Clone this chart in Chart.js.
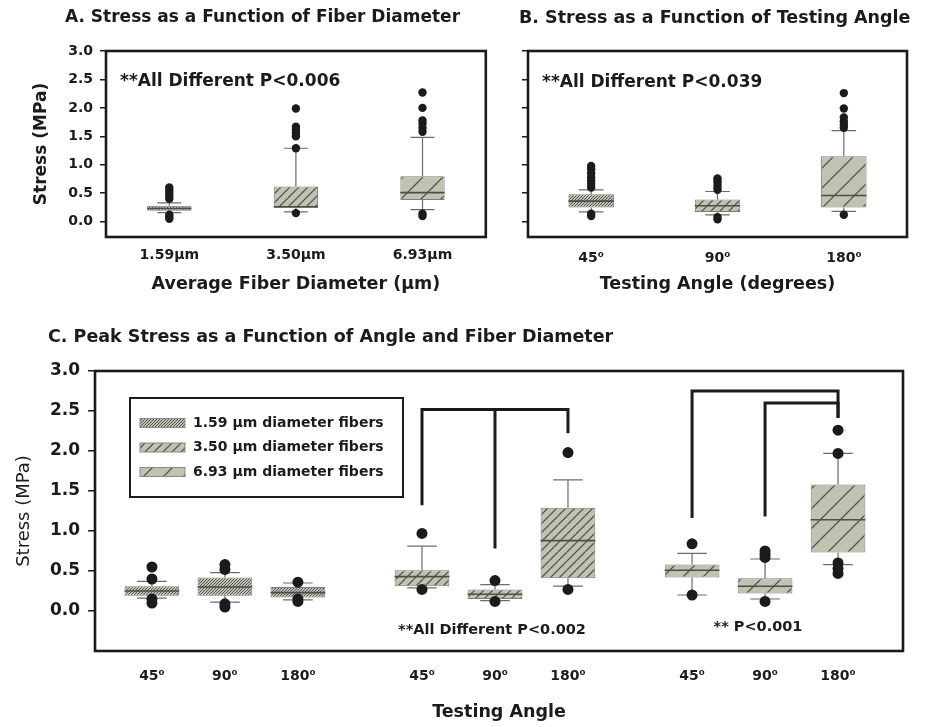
<!DOCTYPE html>
<html>
<head>
<meta charset="utf-8">
<script src="https://cdn.jsdelivr.net/npm/chart.js@4.4.1/dist/chart.umd.min.js"></script>
<style>
  html, body { margin: 0; padding: 0; background: #fff; }
  #wrap { position: relative; width: 933px; height: 727px; overflow: hidden; background: #fff; }
  canvas { position: absolute; }
</style>
</head>
<body>
<div id="wrap">
  <canvas id="cA" width="490" height="300" style="left:0;top:0;width:490px;height:300px"></canvas>
  <canvas id="cB" width="443" height="300" style="left:490px;top:0;width:443px;height:300px"></canvas>
  <canvas id="cC" width="933" height="427" style="left:0;top:300px;width:933px;height:427px"></canvas>
</div>
<script>
// ---------- shared axis ticks ----------
const stressTicks = [0, 0.5, 1.0, 1.5, 2.0, 2.5, 3.0];

// ---------- A: stress by average fiber diameter ----------
const diameterLabels = ['1.59\u00b5m', '3.50\u00b5m', '6.93\u00b5m'];
const diameterLow    = [0.16, 0.17, 0.21];
const diameterQ1     = [0.19, 0.25, 0.38];
const diameterMedian = [0.23, 0.26, 0.51];
const diameterQ3     = [0.28, 0.62, 0.80];
const diameterHigh   = [0.33, 1.29, 1.48];
const diameterOutliers = [
  [0.40, 0.45, 0.50, 0.55, 0.60, 0.05, 0.08, 0.12],
  [1.29, 1.50, 1.56, 1.62, 1.67, 1.99, 0.15],
  [1.58, 1.65, 1.72, 1.78, 2.00, 2.27, 0.10, 0.14]
];

// ---------- B: stress by testing angle ----------
const angleLabels = ['45\u2070', '90\u2070', '180\u2070'];
const angleLow    = [0.17, 0.12, 0.18];
const angleQ1     = [0.25, 0.17, 0.25];
const angleMedian = [0.36, 0.28, 0.46];
const angleQ3     = [0.48, 0.39, 1.15];
const angleHigh   = [0.56, 0.53, 1.60];
const angleOutliers = [
  [0.60, 0.66, 0.72, 0.78, 0.85, 0.92, 0.98, 0.10, 0.14],
  [0.56, 0.61, 0.66, 0.71, 0.76, 0.04, 0.08],
  [1.65, 1.70, 1.76, 1.83, 1.99, 2.26, 0.12]
];

// ---------- C: peak stress by angle (inner) within each fiber diameter (group) ----------
const fiberGroups = ['1.59 \u00b5m diameter fibers', '3.50 \u00b5m diameter fibers', '6.93 \u00b5m diameter fibers'];
const peakLow    = [[0.16, 0.11, 0.14], [0.29, 0.13, 0.31], [0.20, 0.15, 0.58]];
const peakQ1     = [[0.19, 0.19, 0.17], [0.31, 0.15, 0.41], [0.42, 0.22, 0.73]];
const peakMedian = [[0.25, 0.30, 0.23], [0.43, 0.21, 0.88], [0.51, 0.31, 1.14]];
const peakQ3     = [[0.31, 0.42, 0.30], [0.51, 0.27, 1.29], [0.58, 0.41, 1.58]];
const peakHigh   = [[0.37, 0.48, 0.35], [0.81, 0.33, 1.64], [0.72, 0.65, 1.97]];
const peakOutliers = [
  [[0.55, 0.40, 0.15, 0.10], [0.52, 0.58, 0.05, 0.09], [0.36, 0.15, 0.12]],
  [[0.97, 0.27], [0.38, 0.12], [1.98, 0.27]],
  [[0.84, 0.20], [0.67, 0.71, 0.75, 0.12], [1.97, 2.26, 0.60, 0.53, 0.47]]
];
// significance brackets: group, bar level, and [angle index, drop-to level] pairs
const bracketGroup  = [1, 2, 2];
const bracketLevel  = [2.52, 2.75, 2.60];
const bracketDrops  = [[[0, 1.34], [1, 0.80], [2, 2.24]], [[0, 1.18], [2, 2.43]], [[1, 1.20], [2, 2.43]]];

// ---------- styling ----------
const INK = '#1b1b1b';
const FILL = '#c2c2b2';
const FAMILY = "'DejaVu Sans', sans-serif";
Chart.defaults.font.family = FAMILY;
Chart.defaults.color = INK;
Chart.defaults.animation = false;

function hatch(ctx, spacing, lineWidth, ink, bg) {
  const tile = document.createElement('canvas');
  tile.width = tile.height = spacing;
  const g = tile.getContext('2d');
  g.fillStyle = bg;
  g.fillRect(0, 0, spacing, spacing);
  g.strokeStyle = ink;
  g.lineWidth = lineWidth;
  g.beginPath();
  for (let k = -1; k <= 1; k++) {
    g.moveTo(k * spacing, spacing);
    g.lineTo(k * spacing + spacing, 0);
  }
  g.stroke();
  return ctx.createPattern(tile, 'repeat');
}
function patternSet(ctx) {
  return [
    hatch(ctx, 3, 1, '#5a5a54', '#bdbdb3'),
    hatch(ctx, 9, 1.3, '#55554f', FILL),
    hatch(ctx, 20, 1.3, '#55554f', FILL)
  ];
}

// whiskers, caps and median lines for the floating-bar boxes (dataset 1)
function boxPlugin(low, q1, med, q3, high) {
  return {
    id: 'boxWhiskers',
    beforeDatasetsDraw(chart) {
      const y = chart.scales.y, ctx = chart.ctx;
      const bars = chart.getDatasetMeta(1).data;
      ctx.save();
      ctx.strokeStyle = '#6c6c6c';
      ctx.lineWidth = 1.2;
      bars.forEach((bar, i) => {
        const {x, width} = bar.getProps(['x', 'width'], true);
        const half = width * 0.27;
        const yl = y.getPixelForValue(low[i]), yh = y.getPixelForValue(high[i]);
        const y1 = y.getPixelForValue(q1[i]), y3 = y.getPixelForValue(q3[i]);
        ctx.beginPath();
        ctx.moveTo(x, y3); ctx.lineTo(x, yh);
        ctx.moveTo(x, y1); ctx.lineTo(x, yl);
        ctx.moveTo(x - half, yh); ctx.lineTo(x + half, yh);
        ctx.moveTo(x - half, yl); ctx.lineTo(x + half, yl);
        ctx.stroke();
      });
      ctx.restore();
    },
    afterDatasetDraw(chart, args) {
      if (args.index !== 1) return;
      const y = chart.scales.y, ctx = chart.ctx;
      ctx.save();
      ctx.strokeStyle = '#4e4e48';
      ctx.lineWidth = 1.6;
      chart.getDatasetMeta(1).data.forEach((bar, i) => {
        const {x, width} = bar.getProps(['x', 'width'], true);
        const ym = y.getPixelForValue(med[i]);
        ctx.beginPath();
        ctx.moveTo(x - width / 2, ym); ctx.lineTo(x + width / 2, ym);
        ctx.stroke();
      });
      ctx.restore();
    }
  };
}

const framePlugin = {
  id: 'frame',
  afterDatasetsDraw(chart) {
    const a = chart.chartArea, ctx = chart.ctx;
    ctx.save();
    ctx.strokeStyle = INK;
    ctx.lineWidth = 2.6;
    ctx.strokeRect(a.left, a.top, a.right - a.left, a.bottom - a.top);
    ctx.restore();
  }
};

function textPlugin(items) {
  return {
    id: 'panelText',
    afterDraw(chart) {
      const ctx = chart.ctx;
      ctx.save();
      ctx.fillStyle = INK;
      ctx.textBaseline = 'middle';
      items.forEach(t => {
        ctx.font = t.font;
        ctx.textAlign = t.align || 'left';
        ctx.fillText(t.text, t.x, t.y);
      });
      ctx.restore();
    }
  };
}

function stressAxis(opts) {
  return {
    type: 'linear',
    position: 'left',
    min: opts.min,
    max: 3.0,
    afterBuildTicks: s => { s.ticks = stressTicks.map(v => ({value: v})); },
    afterFit: s => { s.width = opts.width; },
    grid: {drawOnChartArea: false, drawTicks: true, tickLength: opts.tick, color: INK, lineWidth: 1.5},
    border: {display: false},
    ticks: {
      display: opts.labels,
      padding: opts.pad,
      color: INK,
      font: {size: opts.fontSize, weight: 'bold'},
      callback: v => v.toFixed(1)
    },
    title: opts.title ? {
      display: true,
      text: opts.title,
      color: INK,
      font: {size: opts.titleSize, weight: opts.titleWeight},
      padding: {top: opts.titlePad, bottom: 0}
    } : {display: false}
  };
}

function positionAxis(opts) {
  return {
    type: 'linear',
    position: 'bottom',
    min: opts.min,
    max: opts.max,
    offset: false,
    afterBuildTicks: s => { s.ticks = opts.positions.map(p => ({value: p})); },
    afterFit: s => { s.height = opts.height; },
    grid: {display: false, drawTicks: false, offset: false},
    border: {display: false},
    ticks: {
      autoSkip: false,
      maxRotation: 0,
      minRotation: 0,
      padding: opts.pad,
      color: INK,
      font: {size: opts.fontSize, weight: 'bold'},
      callback: (v, i) => opts.labels[i]
    },
    title: {
      display: true,
      text: opts.title,
      color: INK,
      font: {size: opts.titleSize, weight: 'bold'},
      padding: {top: 0, bottom: opts.titlePad}
    }
  };
}

function outlierPoints(positions, outliers) {
  const pts = [];
  outliers.forEach((list, i) => list.forEach(v => pts.push({x: positions[i], y: v})));
  return pts;
}

function boxChart(canvasId, cfg) {
  const ctx = document.getElementById(canvasId).getContext('2d');
  const patterns = patternSet(ctx);
  return new Chart(ctx, {
    type: 'bar',
    data: {
      datasets: [
        {
          type: 'scatter',
          data: outlierPoints(cfg.positions, cfg.outliers),
          pointRadius: cfg.dot,
          pointBackgroundColor: INK,
          pointBorderWidth: 0,
          order: 0
        },
        {
          type: 'bar',
          data: cfg.positions.map((p, i) => ({x: p, y: [cfg.q1[i], cfg.q3[i]]})),
          backgroundColor: cfg.patternIndex.map(k => patterns[k]),
          borderColor: '#7c7c78',
          borderWidth: 1,
          borderSkipped: false,
          categoryPercentage: 1,
          barPercentage: cfg.barPct,
          order: 1
        }
      ]
    },
    options: {
      responsive: false,
      devicePixelRatio: 1,
      animation: false,
      events: [],
      layout: {padding: cfg.padding},
      plugins: {legend: {display: false}, tooltip: {enabled: false}},
      scales: {x: cfg.xAxis, y: cfg.yAxis}
    },
    plugins: [boxPlugin(cfg.low, cfg.q1, cfg.median, cfg.q3, cfg.high), framePlugin, textPlugin(cfg.texts)].concat(cfg.extra || [])
  });
}

const abPositions = [0, 1, 2];

// ---------- panel A ----------
boxChart('cA', {
  positions: abPositions,
  low: diameterLow, q1: diameterQ1, median: diameterMedian, q3: diameterQ3, high: diameterHigh,
  outliers: diameterOutliers,
  patternIndex: [0, 1, 2],
  dot: 4.2,
  barPct: 0.35,
  padding: {left: 0, top: 51, right: 4, bottom: 3},
  xAxis: positionAxis({min: -0.5, max: 2.5, positions: abPositions, labels: diameterLabels,
    height: 60, pad: 10, fontSize: 14, title: 'Average Fiber Diameter (\u00b5m)', titleSize: 17.5, titlePad: 2}),
  yAxis: stressAxis({min: -0.27, width: 106, tick: 6, labels: true, pad: 7, fontSize: 14,
    title: 'Stress (MPa)', titleSize: 17, titleWeight: 'bold', titlePad: 31}),
  texts: [
    {text: 'A. Stress as a Function of Fiber Diameter', x: 65, y: 18, font: `bold 17px ${FAMILY}`},
    {text: '**All Different P<0.006', x: 120, y: 82, font: `bold 17px ${FAMILY}`}
  ]
});

// ---------- panel B ----------
boxChart('cB', {
  positions: abPositions,
  low: angleLow, q1: angleQ1, median: angleMedian, q3: angleQ3, high: angleHigh,
  outliers: angleOutliers,
  patternIndex: [0, 1, 2],
  dot: 4.2,
  barPct: 0.36,
  padding: {left: 0, top: 51, right: 26, bottom: 3},
  xAxis: positionAxis({min: -0.5, max: 2.5, positions: abPositions, labels: angleLabels,
    height: 60, pad: 13, fontSize: 14, title: 'Testing Angle (degrees)', titleSize: 17.5, titlePad: 2}),
  yAxis: stressAxis({min: -0.27, width: 38, tick: 6, labels: false, pad: 7, fontSize: 14, title: null}),
  texts: [
    {text: 'B. Stress as a Function of Testing Angle', x: 29, y: 18, font: `bold 17.5px ${FAMILY}`},
    {text: '**All Different P<0.039', x: 52, y: 83, font: `bold 17px ${FAMILY}`}
  ]
});

// ---------- panel C ----------
const GROUP_STEP = 3.7;
const cPositions = [], cLabels = [], cLow = [], cQ1 = [], cMed = [], cQ3 = [], cHigh = [], cOut = [], cPattern = [];
fiberGroups.forEach((_, g) => {
  angleLabels.forEach((lab, a) => {
    cPositions.push(g * GROUP_STEP + a + 1);
    cLabels.push(lab);
    cLow.push(peakLow[g][a]); cQ1.push(peakQ1[g][a]); cMed.push(peakMedian[g][a]);
    cQ3.push(peakQ3[g][a]); cHigh.push(peakHigh[g][a]); cOut.push(peakOutliers[g][a]);
    cPattern.push(g);
  });
});

const bracketPlugin = {
  id: 'brackets',
  afterDatasetsDraw(chart) {
    const {x, y} = chart.scales, ctx = chart.ctx;
    ctx.save();
    ctx.strokeStyle = INK;
    ctx.lineWidth = 3;
    ctx.lineCap = 'square';
    bracketLevel.forEach((level, b) => {
      const g = bracketGroup[b];
      const yTop = y.getPixelForValue(level);
      const drops = bracketDrops[b];
      const xs = drops.map(d => x.getPixelForValue(g * GROUP_STEP + d[0] + 1));
      ctx.beginPath();
      ctx.moveTo(Math.min(...xs), yTop);
      ctx.lineTo(Math.max(...xs), yTop);
      drops.forEach((d, k) => {
        ctx.moveTo(xs[k], yTop);
        ctx.lineTo(xs[k], y.getPixelForValue(d[1]));
      });
      ctx.stroke();
    });
    ctx.restore();
  }
};

function legendPlugin(patternsFor) {
  return {
    id: 'fiberLegend',
    afterDraw(chart) {
      const ctx = chart.ctx;
      const pats = patternsFor(ctx);
      ctx.save();
      ctx.strokeStyle = INK;
      ctx.lineWidth = 2;
      ctx.strokeRect(130, 98, 273, 99);
      ctx.font = `bold 14px ${FAMILY}`;
      ctx.textBaseline = 'middle';
      ctx.textAlign = 'left';
      fiberGroups.forEach((name, g) => {
        const cy = 123 + g * 24.5;
        ctx.fillStyle = pats[g];
        ctx.fillRect(140, cy - 4.5, 45, 9);
        ctx.strokeStyle = '#8a8a86';
        ctx.lineWidth = 1;
        ctx.strokeRect(140, cy - 4.5, 45, 9);
        ctx.fillStyle = INK;
        ctx.fillText(name, 193, cy);
      });
      ctx.restore();
    }
  };
}

boxChart('cC', {
  positions: cPositions,
  low: cLow, q1: cQ1, median: cMed, q3: cQ3, high: cHigh,
  outliers: cOut,
  patternIndex: cPattern,
  dot: 5.5,
  barPct: 0.75,
  padding: {left: 0, top: 71, right: 30, bottom: 0},
  xAxis: positionAxis({min: 0.22, max: 11.29, positions: cPositions, labels: cLabels,
    height: 76, pad: 17, fontSize: 14, title: 'Testing Angle', titleSize: 17.5, titlePad: 4}),
  yAxis: stressAxis({min: -0.5, width: 95, tick: 7, labels: true, pad: 8, fontSize: 17,
    title: 'Stress (MPa)', titleSize: 18, titleWeight: 'normal', titlePad: 13.5}),
  texts: [
    {text: 'C. Peak Stress as a Function of Angle and Fiber Diameter', x: 48, y: 37, font: `bold 17.5px ${FAMILY}`},
    {text: '**All Different P<0.002', x: 492, y: 330, align: 'center', font: `bold 14.5px ${FAMILY}`},
    {text: '** P<0.001', x: 758, y: 327, align: 'center', font: `bold 14.5px ${FAMILY}`}
  ],
  extra: [bracketPlugin, legendPlugin(patternSet)]
});
</script>
</body>
</html>
